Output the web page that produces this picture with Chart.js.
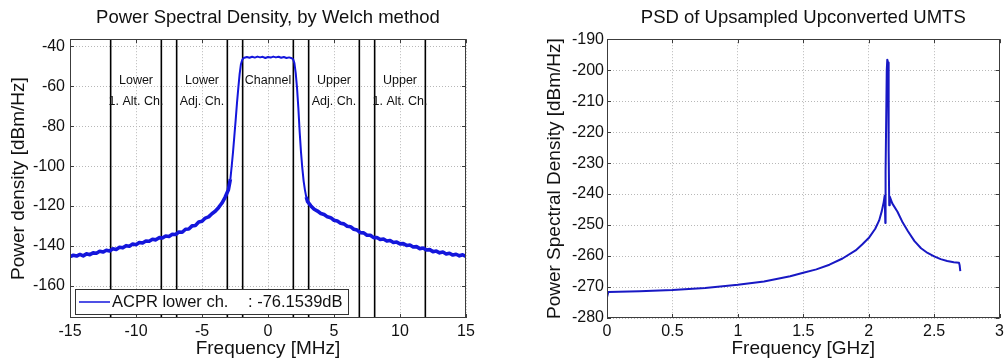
<!DOCTYPE html>
<html><head><meta charset="utf-8">
<script src="https://cdn.jsdelivr.net/npm/chart.js@4.4.1/dist/chart.umd.min.js"></script>
<style>
html,body{margin:0;padding:0;background:#fff;}
#wrap{position:relative;width:1008px;height:364px;overflow:hidden;}
.pane{position:absolute;top:0;width:504px;height:364px;}
</style></head><body>
<div id="wrap">
  <div class="pane" style="left:0"><canvas id="welch" width="504" height="364"></canvas></div>
  <div class="pane" style="left:504px"><canvas id="umts" width="504" height="364"></canvas></div>
</div>
<script>
// ---- left plot: PSD by Welch (MHz, dBm/Hz)
const welchFreq = [-15,-14.75,-14.5,-14.25,-14,-13.75,-13.5,-13.25,-13,-12.75,-12.5,-12.25,-12,-11.75,-11.5,-11.25,-11,-10.75,-10.5,-10.25,-10,-9.75,-9.5,-9.25,-9,-8.75,-8.5,-8.25,-8,-7.75,-7.5,-7.25,-7,-6.75,-6.5,-6.25,-6,-5.75,-5.5,-5.25,-5,-4.75,-4.5,-4.25,-4,-3.75,-3.5,-3.25,-3,-2.85,-2.75,-2.65,-2.55,-2.45,-2.35,-2.25,-2.15,-2.05,-1.95,-1.85,-1.6,-1.4,-1.2,-1,-0.8,-0.6,-0.4,-0.2,0,0.2,0.4,0.6,0.8,1,1.2,1.4,1.6,1.8,1.9,2,2.1,2.2,2.3,2.4,2.5,2.6,2.7,2.8,2.9,3,3.25,3.5,3.75,4,4.25,4.5,4.75,5,5.25,5.5,5.75,6,6.25,6.5,6.75,7,7.25,7.5,7.75,8,8.25,8.5,8.75,9,9.25,9.5,9.75,10,10.25,10.5,10.75,11,11.25,11.5,11.75,12,12.25,12.5,12.75,13,13.25,13.5,13.75,14,14.25,14.5,14.75,15];
const welchPsd  = [-145.3,-144.6,-145.0,-144.2,-144.9,-143.9,-144.3,-143.4,-143.6,-142.6,-143.0,-142.1,-142.5,-141.4,-141.7,-140.6,-140.9,-139.8,-140.1,-139.0,-139.3,-138.2,-138.5,-137.5,-137.6,-136.6,-136.9,-135.8,-136.0,-135.0,-135.2,-134.1,-134.2,-133.0,-133.1,-131.6,-131.5,-129.9,-129.7,-128.0,-127.6,-126.0,-125.4,-123.8,-122.6,-120.8,-118.6,-115.6,-111.8,-106.5,-100,-93,-85,-77,-68.5,-61,-54,-49,-46.8,-45.9,-45.4,-45.8,-45.3,-45.7,-45.2,-45.6,-45.3,-45.9,-45.4,-45.7,-45.2,-45.6,-45.3,-45.8,-45.4,-45.9,-45.6,-46.0,-46.5,-48.5,-53.5,-61,-71,-83,-93,-101,-107.5,-112,-115.5,-117.8,-119.9,-121.6,-122.5,-123.7,-124.2,-125.4,-125.8,-127.1,-127.5,-128.6,-128.9,-130.1,-130.3,-131.6,-132.0,-133.3,-133.4,-134.6,-134.6,-135.8,-135.7,-136.7,-136.5,-137.5,-137.2,-138.2,-138.0,-138.9,-138.8,-139.7,-139.5,-140.5,-140.3,-141.3,-141.0,-142.0,-141.8,-142.8,-142.5,-143.4,-143.0,-144.0,-143.6,-144.5,-144.1,-144.9,-144.4,-145.2];
const chanEdges  = [-11.92,-8.08,-6.92,-3.08,-1.92,1.92,3.08,6.92,8.08,11.92];
const chanCenter = [-10,-5,0,5,10];
const chanName   = ['Lower','Lower','Channel','Upper','Upper'];
const chanSub    = ['1. Alt. Ch.','Adj. Ch.','','Adj. Ch.','1. Alt. Ch.'];
const welchXTicks = [-15,-10,-5,0,5,10,15];
const welchYTicks = [-160,-140,-120,-100,-80,-60,-40];
const acprText = ['ACPR lower ch.', ': -76.1539dB'];

// ---- right plot: upsampled upconverted UMTS (GHz, dBm/Hz)
const umtsFreq = [0,0.01,0.25,0.5,0.75,1,1.2,1.4,1.5,1.6,1.7,1.8,1.9,1.95,2,2.05,2.08,2.1,2.115,2.122,2.127,2.129,2.138,2.142,2.148,2.151,2.154,2.157,2.161,2.18,2.22,2.26,2.3,2.35,2.4,2.45,2.5,2.55,2.6,2.65,2.69,2.695,2.7];
const umtsPsd  = [-273.3,-271.6,-271.4,-271.0,-270.3,-269.3,-268.2,-266.5,-265.4,-264.3,-262.8,-260.8,-258.2,-256.3,-254.2,-251.2,-248.5,-245.5,-242.5,-240.5,-249.3,-233,-200,-196.6,-197.5,-208,-226,-243.6,-240.8,-243,-245.7,-249.2,-252,-255.2,-257.5,-259,-260.1,-261,-261.6,-262,-262.2,-263,-264.9];
const umtsXTicks = [0,0.5,1,1.5,2,2.5,3];
const umtsYTicks = [-280,-270,-260,-250,-240,-230,-220,-210,-200,-190];

const FONT = '"Liberation Sans", Arial, Helvetica, sans-serif';
const INK = '#111';
const BLUE = '#1416dc';
const pts = (xs,ys)=> xs.map((x,i)=>({x, y:ys[i]}));

// frame, inward ticks, text notes and legend, matlab style
const matlabBox = {
  id:'matlabBox',
  afterDatasetsDraw(chart, args, o){
    const {ctx, chartArea:a, scales:{x,y}} = chart;
    ctx.save();
    ctx.fillStyle = INK; ctx.textAlign='center'; ctx.textBaseline='middle';
    ctx.font = `12.5px ${FONT}`;
    (o.notes||[]).forEach(n=>{
      const px = x.getPixelForValue(n.x);
      ctx.fillText(n.l1, px, y.getPixelForValue(n.y1));
      if(n.l2) ctx.fillText(n.l2, px, y.getPixelForValue(n.y2));
    });
    // inward ticks
    ctx.strokeStyle='#3c3c3c'; ctx.lineWidth=1; ctx.beginPath();
    x.ticks.forEach(t=>{ const px=Math.round(x.getPixelForValue(t.value))+0.5;
      ctx.moveTo(px,a.bottom); ctx.lineTo(px,a.bottom-4); ctx.moveTo(px,a.top); ctx.lineTo(px,a.top+4); });
    y.ticks.forEach(t=>{ const py=Math.round(y.getPixelForValue(t.value))+0.5;
      ctx.moveTo(a.left,py); ctx.lineTo(a.left+4,py); ctx.moveTo(a.right,py); ctx.lineTo(a.right-4,py); });
    ctx.stroke();
    ctx.strokeRect(Math.round(a.left)+0.5, Math.round(a.top)+0.5, Math.round(a.width)-1, Math.round(a.height)-1);
    if(o.legend){
      const L = o.legend, bx=a.left+5, by=a.bottom-29, bw=273, bh=25;
      ctx.fillStyle='#fff'; ctx.fillRect(bx,by,bw,bh);
      ctx.strokeStyle='#333'; ctx.strokeRect(bx+0.5,by+0.5,bw,bh);
      ctx.strokeStyle=L.color; ctx.lineWidth=1.5; ctx.beginPath();
      ctx.moveTo(bx+4,by+bh/2+0.5); ctx.lineTo(bx+35,by+bh/2+0.5); ctx.stroke();
      ctx.fillStyle=INK; ctx.font=`16.5px ${FONT}`; ctx.textAlign='left';
      ctx.fillText(L.text[0], bx+37, by+bh/2+1);
      ctx.fillText(L.text[1], bx+173, by+bh/2+1);
    }
    ctx.restore();
  }
};

function axis(min,max,ticks,title,fitSize,horiz,tpad){
  return {
    type:'linear', min, max,
    afterBuildTicks: s=>{ s.ticks = ticks.map(v=>({value:v})); },
    afterFit: s=>{ if(horiz) s.height=fitSize; else s.width=fitSize; },
    grid:{ color:'#b8b8b8', lineWidth:1, drawTicks:false },
    border:{ display:false, dash:[1,2] },
    ticks:{ color:INK, font:{family:FONT,size:16}, padding: horiz?4:tpad, autoSkip:false, maxRotation:0, callback:v=>String(v) },
    title:{ display:true, text:title, color:INK, font:{family:FONT,size:19},
            padding: horiz?{top:0,bottom:4}:{top:tpad===5?7.5:39,bottom:0} }
  };
}

function makeChart(id, datasets, xs, ys, title, pad, extra){
  return new Chart(document.getElementById(id).getContext('2d'), {
    type:'line',
    data:{ datasets },
    options:{
      responsive:false, animation:false, events:[],
      layout:{ padding:pad },
      plugins:{
        legend:{display:false}, tooltip:{enabled:false},
        title:{ display:true, text:title, fullSize:false, color:INK, font:{family:FONT,size:18.5,weight:'normal'}, padding:{top:7,bottom:10} },
        matlabBox: extra
      },
      scales:{ x:xs, y:ys }
    },
    plugins:[matlabBox]
  });
}

const W_YMIN=-176, W_YMAX=-36.5;
// noisy tails look thicker than the flat channel top
const welchSets = [{ data:pts(welchFreq,welchPsd), borderColor:BLUE, borderWidth:2, pointRadius:0, tension:0,
    borderJoinStyle:'round',
    segment:{ borderWidth: c => Math.abs(c.p0.parsed.x) > 2.8 && Math.abs(c.p1.parsed.x) > 2.8 ? 3.6 : 2 } }]
  .concat(chanEdges.map(e=>({ data:[{x:e,y:W_YMIN},{x:e,y:W_YMAX}], borderColor:'#000', borderWidth:1.6, pointRadius:0 })));
makeChart('welch', welchSets,
  axis(-15,15,welchXTicks,'Frequency [MHz]',46,true),
  axis(W_YMIN,W_YMAX,welchYTicks,'Power density [dBm/Hz]',70,false,5),
  'Power Spectral Density, by Welch method',
  {left:0,right:38,top:0,bottom:0},
  { notes: chanCenter.map((c,i)=>({x:c, l1:chanName[i], y1:-57, l2:chanSub[i], y2:-67.5})),
    legend:{ text:acprText, color:BLUE } });

makeChart('umts',
  [{ data:pts(umtsFreq,umtsPsd), borderColor:'#1818c4', borderWidth:2, pointRadius:0, tension:0, borderJoinStyle:'round' }],
  axis(0,3,umtsXTicks,'Frequency [GHz]',46,true),
  axis(-280,-190,umtsYTicks,'Power Spectral Density [dBm/Hz]',103,false,3),
  'PSD of Upsampled Upconverted UMTS',
  {left:0,right:6,top:0,bottom:0},
  {});
</script>
</body></html>
